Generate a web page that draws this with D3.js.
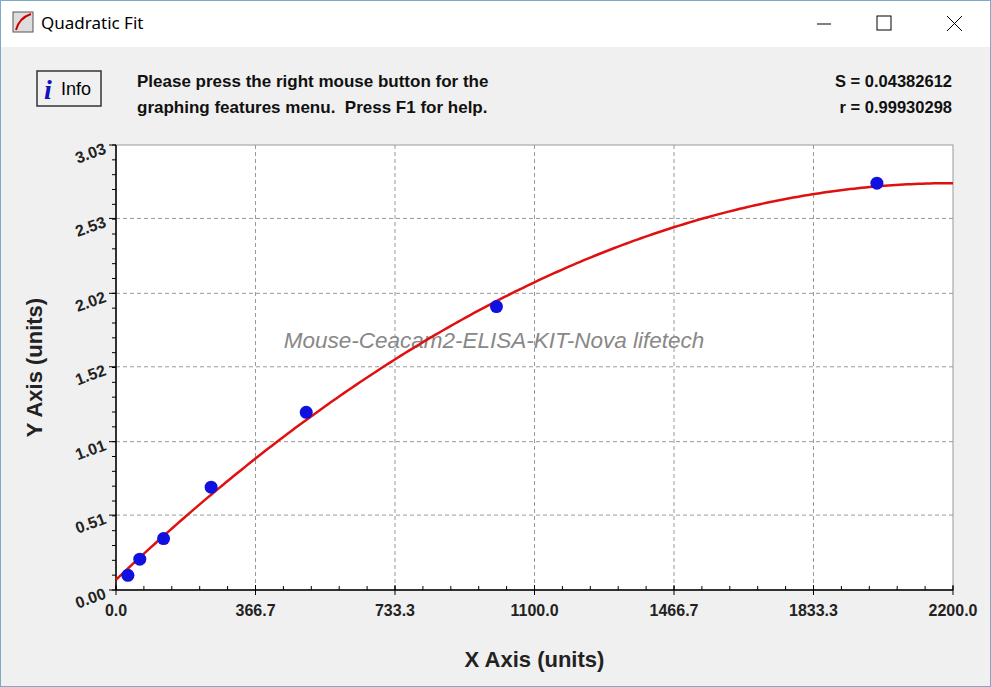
<!DOCTYPE html>
<html><head><meta charset="utf-8">
<script src="https://cdn.jsdelivr.net/npm/d3@7"></script>
<style>body{margin:0;background:#fff;overflow:hidden}</style>
</head><body>
<script>
const concentrations = [31.25, 62.5, 125, 250, 500, 1000, 2000];
const absorbances = [0.10, 0.21, 0.35, 0.70, 1.21, 1.93, 2.77];
const fitCoefficients = [0.07, 0.002455, -5.58e-7]; // a + b x + c x^2
const xTickLabels = ["0.0","366.7","733.3","1100.0","1466.7","1833.3","2200.0"];
const yTickLabels = ["0.00","0.51","1.01","1.52","2.02","2.53","3.03"];

const W=991,H=687;
const svg=d3.select("body").append("svg").attr("width",W).attr("height",H).style("font-family","Arial, Liberation Sans, sans-serif");
svg.append("rect").attr("width",W).attr("height",H).attr("fill","#f0f0f0");
svg.append("rect").attr("width",W).attr("height",47).attr("fill","#fff");
svg.append("rect").attr("x",0.5).attr("y",0.5).attr("width",W-1).attr("height",H-1).attr("fill","none").attr("stroke","#7fa9c8");
const ic=svg.append("g").attr("transform","translate(13,12)");
ic.append("rect").attr("width",20).attr("height",20).attr("fill","#ddd").attr("stroke","#555");
ic.append("path").attr("d","M3,18 Q6,6 18,2").attr("stroke","#c00").attr("stroke-width",2).attr("fill","none");
svg.append("text").attr("x",41).attr("y",29).attr("font-size",17).attr("font-family","Segoe UI, Noto Sans, sans-serif").text("Quadratic Fit");
svg.append("line").attr("x1",817).attr("x2",831).attr("y1",24).attr("y2",24).attr("stroke","#000");
svg.append("rect").attr("x",877).attr("y",16).attr("width",14).attr("height",14).attr("fill","none").attr("stroke","#000");
svg.append("path").attr("d","M947,16L962,31M962,16L947,31").attr("stroke","#000");
svg.append("rect").attr("x",37).attr("y",71).attr("width",64).attr("height",35).attr("fill","#f0f0f0").attr("stroke","#333").attr("stroke-width",1.5);
svg.append("text").attr("x",44).attr("y",99).attr("font-size",28).attr("font-weight","bold").attr("font-style","italic").attr("font-family","Liberation Serif, serif").attr("fill","#1010c0").text("i");
svg.append("text").attr("x",61).attr("y",95).attr("font-size",18).attr("font-family","Liberation Sans Narrow, Arial, sans-serif").text("Info");
svg.append("text").attr("x",137).attr("y",87).attr("font-size",17).attr("font-weight","bold").attr("fill","#111").text("Please press the right mouse button for the");
svg.append("text").attr("x",137).attr("y",113).attr("font-size",17).attr("font-weight","bold").attr("fill","#111").attr("xml:space","preserve").text("graphing features menu.  Press F1 for help.");
svg.append("text").attr("x",952).attr("y",87).attr("text-anchor","end").attr("font-size",16.5).attr("font-weight","bold").attr("fill","#111").text("S = 0.04382612");
svg.append("text").attr("x",952).attr("y",113).attr("text-anchor","end").attr("font-size",16.5).attr("font-weight","bold").attr("fill","#111").text("r = 0.99930298");

const L=116,R=953,T=145,B=590;
const x=d3.scaleLinear().domain([0,2200]).range([L,R]);
const y=d3.scaleLinear().domain([0,3.03]).range([B,T]);
svg.append("rect").attr("x",L).attr("y",T).attr("width",R-L).attr("height",B-T).attr("fill","#fff").attr("stroke","#999");
const xv=xTickLabels.map(Number), yv=yTickLabels.map(Number);
const g=svg.append("g");
xv.slice(1,-1).forEach(v=>g.append("line").attr("x1",x(v)).attr("x2",x(v)).attr("y1",T).attr("y2",B).attr("stroke","#999").attr("stroke-dasharray","4,3"));
yv.slice(1,-1).forEach(v=>g.append("line").attr("x1",L).attr("x2",R).attr("y1",y(v)).attr("y2",y(v)).attr("stroke","#999").attr("stroke-dasharray","4,3"));
const xMinor=d3.range(0,2200.01,2200/30), yMinor=d3.range(0,3.0301,3.03/30);
xMinor.forEach(v=>g.append("line").attr("x1",x(v)).attr("x2",x(v)).attr("y1",B).attr("y2",B-4).attr("stroke","#000"));
yMinor.forEach(v=>g.append("line").attr("x1",L).attr("x2",L-4).attr("y1",y(v)).attr("y2",y(v)).attr("stroke","#000"));
xv.forEach(v=>g.append("line").attr("x1",x(v)).attr("x2",x(v)).attr("y1",B-5).attr("y2",B+5).attr("stroke","#000"));
yv.forEach(v=>g.append("line").attr("x1",L-7).attr("x2",L).attr("y1",y(v)).attr("y2",y(v)).attr("stroke","#000"));
g.append("line").attr("x1",L).attr("x2",R).attr("y1",B).attr("y2",B).attr("stroke","#000").attr("stroke-width",1.5);
g.append("line").attr("x1",L).attr("x2",L).attr("y1",T).attr("y2",B).attr("stroke","#000").attr("stroke-width",1.5);
xTickLabels.forEach((t,i)=>g.append("text").attr("x",x(xv[i])).attr("y",B+26).attr("text-anchor","middle").attr("font-size",16).attr("font-weight","bold").attr("fill","#222").text(t));
yTickLabels.forEach((t,i)=>g.append("text").attr("transform",`translate(${L-9},${y(yv[i])+8}) rotate(-20)`).attr("text-anchor","end").attr("font-size",16).attr("font-weight","bold").attr("fill","#222").text(t));
svg.append("text").attr("x",(L+R)/2).attr("y",667).attr("text-anchor","middle").attr("font-size",22).attr("font-weight","bold").attr("fill","#222").text("X Axis (units)");
svg.append("text").attr("transform",`translate(42,${(T+B)/2}) rotate(-90)`).attr("text-anchor","middle").attr("font-size",22).attr("font-weight","bold").attr("fill","#222").text("Y Axis (units)");
svg.append("text").attr("x",494).attr("y",348).attr("text-anchor","middle").attr("font-size",22.5).attr("font-style","italic").attr("fill","#888").text("Mouse-Ceacam2-ELISA-KIT-Nova lifetech");
const f=v=>fitCoefficients[0]+fitCoefficients[1]*v+fitCoefficients[2]*v*v;
const xs=d3.range(0,2200.1,10);
svg.append("path").datum(xs).attr("d",d3.line().x(v=>x(v)).y(v=>y(f(v)))).attr("fill","none").attr("stroke","#e01010").attr("stroke-width",2.5);
svg.selectAll("circle.p").data(concentrations).join("circle").attr("cx",d=>x(d)).attr("cy",(d,i)=>y(absorbances[i])).attr("r",6.5).attr("fill","#1010e0");
</script></body></html>
